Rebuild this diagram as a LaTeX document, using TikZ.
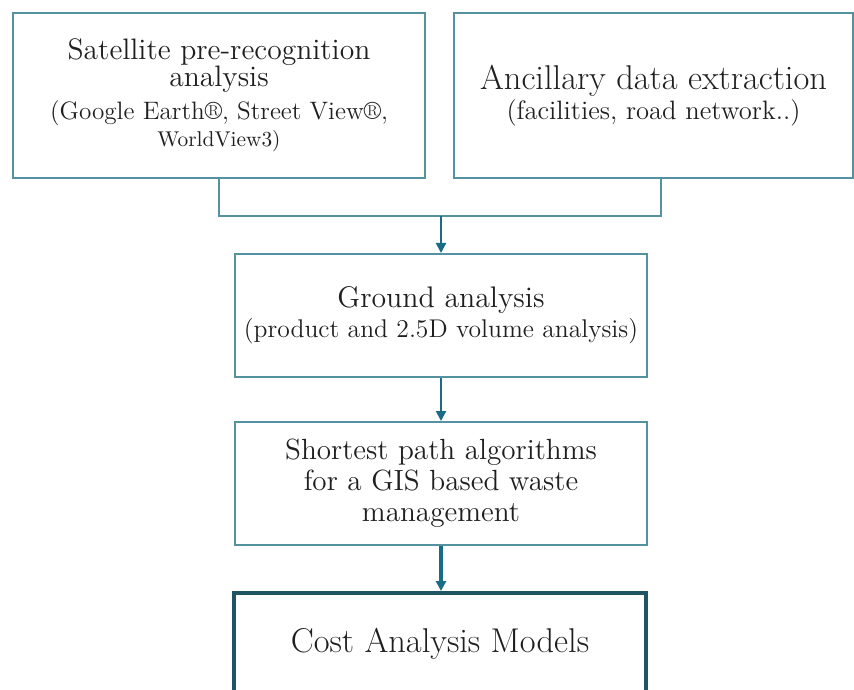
\documentclass[tikz,border=0pt]{standalone}
\usetikzlibrary{arrows.meta}
\definecolor{boxline}{RGB}{84,146,160}
\definecolor{flowline}{RGB}{25,108,136}
\definecolor{costline}{RGB}{30,84,100}

\begin{document}
\begin{tikzpicture}[x=0.5pt,y=-0.5pt,
    stage/.style={draw=boxline,line width=1pt,align=center,inner sep=0pt,
      minimum width=206pt,minimum height=61.5pt,text=black!88},
    link/.style={draw=boxline,line width=1pt},
    flow/.style={draw=flowline,line width=1pt,-{Triangle[length=5pt,width=5pt]}}]
  \useasboundingbox (0,0) rectangle (854,689);
  % the two sources
  \node[stage,minimum height=82.5pt,font=\fontsize{14.8}{13.5}\selectfont] (sat) at (219,95.5)
    {Satellite pre-recognition\\ analysis\\[3pt]
     {\fontsize{12.6}{13.5}\selectfont (Google Earth®, Street View®,}\\
     {\fontsize{10.7}{13.5}\selectfont WorldView3)}};
  \node[stage,minimum width=199.5pt,minimum height=82.5pt,font=\fontsize{17.2}{15}\selectfont] (anc) at (653.5,95.5)
    {Ancillary data extraction\\
     {\fontsize{13.3}{15}\selectfont (facilities, road network..)}};
  % the chain below
  \node[stage,font=\fontsize{14.9}{15}\selectfont] (ground) at (441,315.5)
    {Ground analysis\\
     {\fontsize{12.8}{15}\selectfont (product and 2.5D volume analysis)}};
  \node[stage,font=\fontsize{14.6}{15.5}\selectfont] (short) at (441,483.5)
    {Shortest path algorithms\\ for a GIS based waste\\ management};
  \node[stage,draw=costline,line width=2pt,minimum height=0pt,text height=29.5pt,text depth=32pt,
    anchor=north,font=\fontsize{17.2}{18}\selectfont] (cost) at (440,591)
    {Cost Analysis Models};
  \coordinate (join) at (441,216);
  \draw[link] (sat.south) |- (join) -| ([xshift=3.75pt]anc.south);
  \draw[flow] (join) -- (ground.north);
  \draw[flow] (ground.south) -- (short.north);
  \draw[flow,line width=2pt] (short.south) -- (short.south |- cost.north);
\end{tikzpicture}
\end{document}
